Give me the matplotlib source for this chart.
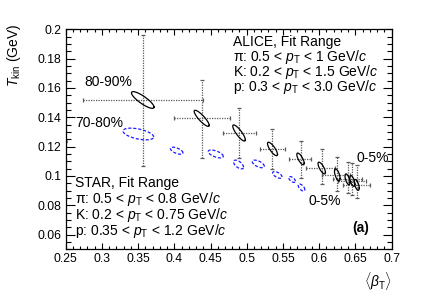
import numpy as np
import matplotlib
matplotlib.use("Agg")
import matplotlib.pyplot as plt
from matplotlib.ticker import MultipleLocator, FuncFormatter

plt.rcParams['font.family'] = ['Liberation Sans', 'DejaVu Sans']
plt.rcParams['mathtext.fontset'] = 'custom'
plt.rcParams['mathtext.rm'] = 'Liberation Sans'
plt.rcParams['mathtext.it'] = 'Liberation Sans:italic'
plt.rcParams['mathtext.bf'] = 'Liberation Sans:bold'

# ALICE (black solid contours) : centre, error-bar extents, contour half-widths
alice_beta = [0.3564, 0.4378, 0.4894, 0.5356, 0.5743, 0.6036, 0.6251, 0.6392, 0.6459, 0.6519]
alice_T = [0.1518, 0.1393, 0.1293, 0.1184, 0.1116, 0.1054, 0.1007, 0.0977, 0.0966, 0.0939]
alice_beta_lo = [0.2735, 0.3996, 0.4668, 0.5184, 0.5580, 0.5819, 0.6040, 0.6190, 0.6260, 0.6330]
alice_beta_hi = [0.4400, 0.4770, 0.5128, 0.5529, 0.5888, 0.6220, 0.6430, 0.6590, 0.6650, 0.6700]
alice_T_lo = [0.1070, 0.1120, 0.1120, 0.1048, 0.0984, 0.0942, 0.0894, 0.0884, 0.0870, 0.0850]
alice_T_hi = [0.1961, 0.1654, 0.1461, 0.1318, 0.1240, 0.1182, 0.1127, 0.1097, 0.1088, 0.1075]
alice_sx = [0.0156, 0.0104, 0.0087, 0.0069, 0.0051, 0.0051, 0.0039, 0.0035, 0.0035, 0.0035]
alice_sy = [0.0057, 0.0055, 0.0055, 0.0046, 0.0040, 0.0040, 0.0041, 0.0037, 0.0037, 0.0037]
alice_rho = [-0.85, -0.87, -0.85, -0.80, -0.75, -0.75, -0.60, -0.60, -0.60, -0.60]

# STAR (blue dashed contours)
star_beta = [0.2430, 0.3503, 0.4033, 0.4572, 0.4887, 0.5160, 0.5423, 0.5626, 0.5757]
star_T = [0.1245, 0.1286, 0.1172, 0.1150, 0.1078, 0.1082, 0.1007, 0.0976, 0.0921]
star_sx = [0.0090, 0.0212, 0.0087, 0.0104, 0.0069, 0.0083, 0.0065, 0.0046, 0.0046]
star_sy = [0.0025, 0.0040, 0.0024, 0.0027, 0.0030, 0.0026, 0.0023, 0.0020, 0.0024]
star_rho = [-0.5, -0.5, -0.6, -0.6, -0.6, -0.6, -0.6, -0.6, -0.6]

xticks = [0.25, 0.3, 0.35, 0.4, 0.45, 0.5, 0.55, 0.6, 0.65, 0.7]
yticks = [0.06, 0.08, 0.1, 0.12, 0.14, 0.16, 0.18, 0.2]

fig = plt.figure(figsize=(4.36, 2.95), dpi=100)
ax = fig.add_axes([0.1507, 0.155, 0.898 - 0.1507, 0.9007 - 0.155])
ax.set_xlim(0.25, 0.7)
ax.set_ylim(0.05, 0.2)

t = np.linspace(0, 2 * np.pi, 200)

def contour(cx, cy, sx, sy, rho, **kw):
    xs = cx + sx * np.cos(t)
    ys = cy + sy * (rho * np.cos(t) + np.sqrt(1 - rho ** 2) * np.sin(t))
    ax.plot(xs, ys, **kw)

# error bars
a_b = np.array(alice_beta); a_T = np.array(alice_T)
xerr = [a_b - np.array(alice_beta_lo), np.array(alice_beta_hi) - a_b]
yerr = [a_T - np.array(alice_T_lo), np.array(alice_T_hi) - a_T]
eb = ax.errorbar(a_b, a_T, xerr=xerr, yerr=yerr, fmt='none', ecolor='0.35',
                 elinewidth=0.9, capsize=1.5, capthick=0.9)
for lc in eb[2]:
    lc.set_linestyle((0, (1, 1)))

for i in range(len(alice_beta)):
    contour(alice_beta[i], alice_T[i], alice_sx[i], alice_sy[i], alice_rho[i],
            color='black', lw=0.9)
for i in range(len(star_beta)):
    contour(star_beta[i], star_T[i], star_sx[i], star_sy[i], star_rho[i],
            color='#1a1aff', lw=0.9, linestyle=(0, (2.5, 1.5)))

# axes style (ROOT-like)
ax.xaxis.set_minor_locator(MultipleLocator(0.01))
ax.yaxis.set_minor_locator(MultipleLocator(0.005))
ax.set_xticks(xticks)
ax.set_yticks(yticks)
fmt = FuncFormatter(lambda v, p: '%g' % round(v, 4))
ax.xaxis.set_major_formatter(fmt)
ax.yaxis.set_major_formatter(fmt)
ax.tick_params(axis='x', which='major', direction='in', length=4.2, width=0.8,
               top=True, labelsize=8.7, pad=3)
ax.tick_params(axis='x', which='minor', direction='in', length=2.1, width=0.8, top=True)
ax.tick_params(axis='y', which='major', direction='in', length=6.5, width=0.8,
               right=True, labelsize=8.7, pad=3)
ax.tick_params(axis='y', which='minor', direction='in', length=3.3, width=0.8, right=True)
for s in ax.spines.values():
    s.set_linewidth(0.9)

def px(x, y, s, **kw):
    fig.text(x / 436, 1 - y / 295, s, **kw)

fs = 10
px(14, 24, r'$T_{\rm kin}$ (GeV)', fontsize=10, rotation=90, ha='center', va='top')
px(392, 281, r'$\langle\beta_{\rm T}\rangle$', fontsize=10, ha='right', va='center')

px(84, 82, '80-90%', fontsize=fs, va='center')
px(75, 123, '70-80%', fontsize=fs, va='center')
px(356, 158, '0-5%', fontsize=fs, va='center')
px(308, 201, '0-5%', fontsize=fs, va='center')

lines_alice = ['ALICE, Fit Range',
               r'π: 0.5 < $p_{\rm T}$ < 1 GeV/$c$',
               r'K: 0.2 < $p_{\rm T}$ < 1.5 GeV/$c$',
               r'p: 0.3 < $p_{\rm T}$ < 3.0 GeV/$c$']
for k, s in enumerate(lines_alice):
    px(233, 42 + 15 * k, s, fontsize=fs, va='center')
lines_star = ['STAR, Fit Range',
              r'π: 0.5 < $p_{\rm T}$ < 0.8 GeV/$c$',
              r'K: 0.2 < $p_{\rm T}$ < 0.75 GeV/$c$',
              r'p: 0.35 < $p_{\rm T}$ < 1.2 GeV/$c$']
for k, s in enumerate(lines_star):
    px(75, 183.5 + 15.8 * k, s, fontsize=fs, va='center')
px(352, 228, '(a)', fontsize=10, fontweight='bold', va='center')

fig.savefig('out.png', dpi=100)
